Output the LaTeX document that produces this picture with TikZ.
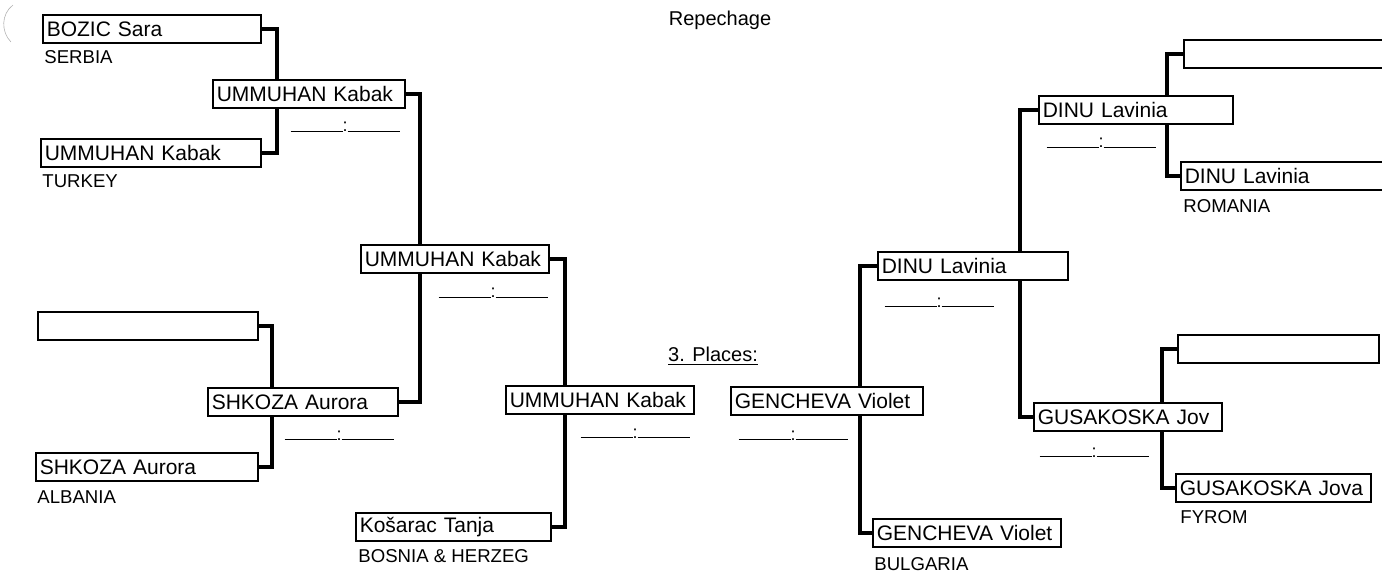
\documentclass[tikz,border=0pt]{standalone}
\usepackage{fontspec}
\setmainfont{Liberation Sans}
\usepackage{tikz}
\usetikzlibrary{positioning,backgrounds}
\newcommand{\scoreline}{\rule{26pt}{0.5pt}:\rule{26pt}{0.5pt}}
\tikzset{
  player/.style={draw, fill=white, line width=0.8pt, anchor=west, minimum height=14pt,
    inner xsep=2pt, inner ysep=0pt, text width=#1, align=left, font=\fontsize{10.5}{12}\selectfont},
  country/.style={anchor=west, inner sep=0pt, font=\fontsize{9.3}{11}\selectfont},
  scorebox/.style={anchor=base, inner sep=0pt, font=\fontsize{9}{10}\selectfont},
  link/.style={line width=2pt, line join=miter}
}

\begin{document}
\begin{tikzpicture}[x=0.5pt, y=-0.5pt]
\useasboundingbox (0,0) rectangle (1382,572);

% scan mark
\draw[gray!60, line width=0.3pt] (13,5) .. controls (1,14) and (1,32) .. (11,42);

% Titles
\node[font=\fontsize{10}{12}\selectfont] (rep) at (720,20) {Repechage};
\node[font=\fontsize{10}{12}\selectfont] (places) at (713,356) {\underline{3. Places:}};

% Left half
\node[player=105pt] (bozic) at (42,29) {BOZIC Sara};
\node[player=106pt] (ummA) at (40,153) {UMMUHAN Kabak};
\node[player=92pt] (ummB) at (212,94) {UMMUHAN Kabak};
\node[player=106pt] (emptyL) at (37,326) {};
\node[player=107pt] (shkA) at (35,467) {SHKOZA Aurora};
\node[player=91pt] (shkB) at (207,402) {SHKOZA Aurora};
\node[player=90pt] (ummC) at (360,259) {UMMUHAN Kabak};
\node[player=90pt] (ummD) at (505,400) {UMMUHAN Kabak};
\node[player=93.5pt] (kosarac) at (355,527) {Košarac Tanja};

% Right half
\node[player=92pt] (genB) at (730,401) {GENCHEVA Violet};
\node[player=90pt] (genA) at (872,533) {GENCHEVA Violet};
\node[player=91pt] (dinuC) at (877,266) {DINU Lavinia};
\node[player=93pt] (dinuB) at (1038,110) {DINU Lavinia};
\node[player=90pt] (gusB) at (1033,417) {GUSAKOSKA Jov};
\node[player=97pt] (emptyTR) at (1183,54) {};
\node[player=98.5pt] (dinuA) at (1180,176) {DINU Lavinia};
\node[player=96.5pt] (emptyBR) at (1177,349) {};
\node[player=93.5pt] (gusA) at (1175,488) {GUSAKOSKA Jova};

% Countries
\node[country] (srb) at (44,57) {SERBIA};
\node[country] (tur) at (42,181) {TURKEY};
\node[country] (alb) at (37,497) {ALBANIA};
\node[country] (bih) at (358,556) {BOSNIA \& HERZEG};
\node[country] (bul) at (874,564) {BULGARIA};
\node[country] (rou) at (1183,206) {ROMANIA};
\node[country] (mkd) at (1180,517) {FYROM};

% Scores
\node[scorebox] (sB1) at (345,132) {\scoreline};
\node[scorebox] (sB2) at (339,440) {\scoreline};
\node[scorebox] (sC1) at (493,298) {\scoreline};
\node[scorebox] (sD1) at (635,438) {\scoreline};
\node[scorebox] (sD2) at (793,440) {\scoreline};
\node[scorebox] (sC2) at (939,307) {\scoreline};
\node[scorebox] (sB3) at (1101,148) {\scoreline};
\node[scorebox] (sB4) at (1094,457) {\scoreline};

% Brackets
\begin{pgfonlayer}{background}
\draw[link] (bozic.east) -- ++(15,0) |- (ummA.east);
\draw[link] (ummB.east) -- ++(14,0) |- (shkB.east);
\draw[link] (emptyL.east) -- ++(13,0) |- (shkA.east);
\draw[link] (ummC.east) -- ++(15,0) |- (kosarac.east);
\draw[link] (dinuC.west) -- ++(-17,0) |- (genA.west);
\draw[link] (dinuB.west) -- ++(-18,0) |- (gusB.west);
\draw[link] (emptyTR.west) -- ++(-16,0) |- (dinuA.west);
\draw[link] (emptyBR.west) -- ++(-15,0) |- (gusA.west);
\end{pgfonlayer}
\end{tikzpicture}
\end{document}
